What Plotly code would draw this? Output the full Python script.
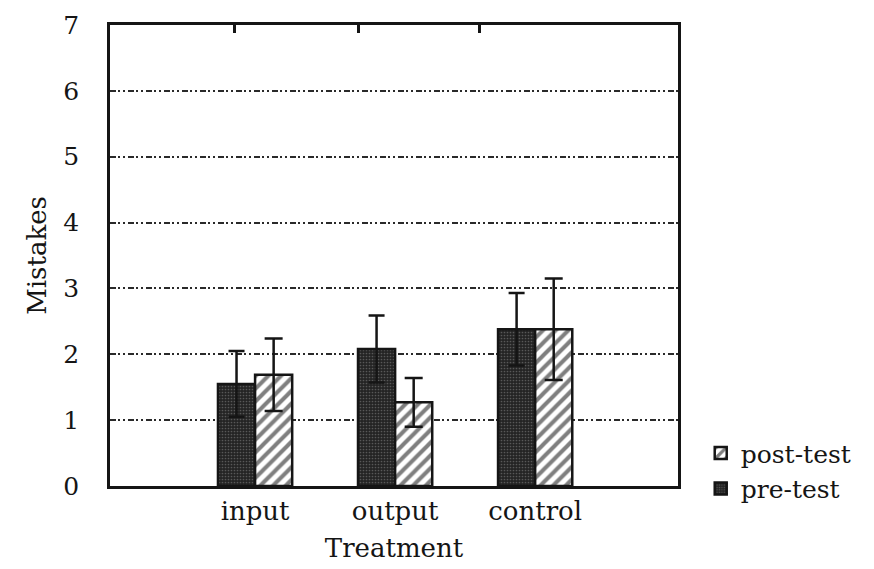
import plotly.graph_objects as go

categories = ["input", "output", "control"]
pre_test = [1.55, 2.08, 2.38]
pre_err = [0.50, 0.51, 0.55]
post_test = [1.69, 1.27, 2.38]
post_err = [0.55, 0.37, 0.77]
y_ticks = [0, 1, 2, 3, 4, 5, 6, 7]
top_ticks = [-0.15, 0.74, 1.6]

FONT = "DejaVu Serif"
INK = "#151515"

fig = go.Figure()
fig.add_trace(go.Bar(
    name="pre-test", x=categories, y=pre_test,
    error_y=dict(type="data", array=pre_err, color=INK, thickness=2.5, width=8),
    marker=dict(color="#2b2b2b",
                line=dict(color=INK, width=2.5),
                pattern=dict(shape=".", fgcolor="#8c8c8c", bgcolor="#242424",
                             size=3, solidity=0.25, fillmode="overlay")),
))
fig.add_trace(go.Bar(
    name="post-test", x=categories, y=post_test,
    error_y=dict(type="data", array=post_err, color=INK, thickness=2.5, width=9),
    marker=dict(color="white",
                line=dict(color=INK, width=2.5),
                pattern=dict(shape="/", fgcolor="#000000", bgcolor="white",
                             size=9, solidity=0.45)),
))
fig.add_trace(go.Scatter(x=[], y=[], xaxis="x2", showlegend=False, hoverinfo="skip"))

fig.update_layout(
    width=874, height=569,
    margin=dict(l=102, r=204, t=17, b=91, autoexpand=False),
    paper_bgcolor="white", plot_bgcolor="white",
    font=dict(family=FONT, size=26, color=INK),
    barmode="group", bargap=0.47, bargroupgap=0,
    showlegend=True,
    legend=dict(x=1.04, xanchor="left", y=-0.055, yanchor="bottom",
                traceorder="reversed", font=dict(size=25, family=FONT),
                itemwidth=30, tracegroupgap=0, bgcolor="rgba(0,0,0,0)"),
    xaxis=dict(
        type="category", categoryorder="array", categoryarray=categories,
        range=[-1.036, 3.02], automargin=False, ticklabeloverflow="allow",
        showline=True, linecolor=INK, linewidth=2.5, mirror=True,
        ticks="", showgrid=False, zeroline=False,
        tickfont=dict(size=26),
        title=dict(text="Treatment", font=dict(size=26), standoff=14),
    ),
    xaxis2=dict(
        overlaying="x", side="top", range=[-1.036, 3.02], automargin=False,
        tickvals=top_ticks, ticks="inside", ticklen=8, tickwidth=2.5,
        tickcolor=INK, showticklabels=False, showgrid=False,
        zeroline=False, showline=False,
    ),
    yaxis=dict(
        range=[0, 7], tickvals=y_ticks, automargin=False, ticklabeloverflow="allow",
        showline=True, linecolor=INK, linewidth=2.5, mirror=True,
        ticks="", ticklabelstandoff=23,
        showgrid=True, gridcolor="#2a2a2a", gridwidth=1.5,
        griddash="6px,2px,2px,3px,2px,3px",
        zeroline=False,
        tickfont=dict(size=25),
        title=dict(text="Mistakes", font=dict(size=26), standoff=10),
    ),
)

fig.write_html("out.html")
